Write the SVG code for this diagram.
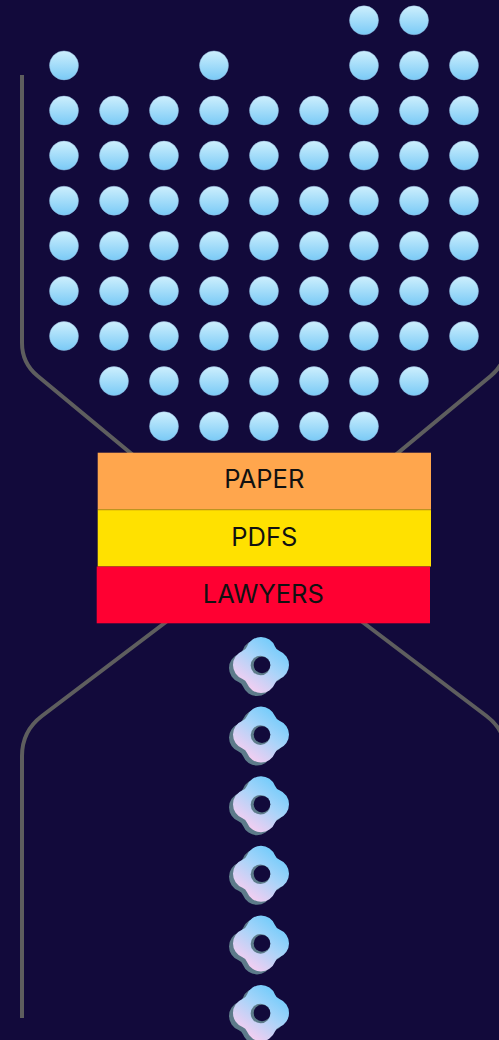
<svg xmlns="http://www.w3.org/2000/svg" xmlns:xlink="http://www.w3.org/1999/xlink" width="499" height="1040" viewBox="0 0 499 1040">
<style>
.dot{fill:url(#dg);stroke:#8fb4d8;stroke-opacity:0.55;stroke-width:0.8}
.ln{fill:none;stroke:#5e5e5e;stroke-width:4}
.lbl{font-family:Inter,"Liberation Sans",sans-serif;font-size:25.5px;fill:#111;text-anchor:middle}
.sep{stroke:#a06a10;stroke-opacity:0.35;stroke-width:1}
</style>
<defs>
<linearGradient id="dg" x1="0" y1="0" x2="0" y2="1">
<stop offset="0" stop-color="#cdeffd"/>
<stop offset="1" stop-color="#7acaf6"/>
</linearGradient>
<linearGradient id="fg" x1="0.85" y1="0.1" x2="0.2" y2="0.95">
<stop offset="0" stop-color="#6ccbfb"/>
<stop offset="0.45" stop-color="#a9d4f9"/>
<stop offset="1" stop-color="#ffcdf0"/>
</linearGradient>
<path id="fshape" d="M18.49,-13.96 A15,15 0 0 1 18.49,13.96 A8,8 0 0 0 13.96,18.49 A15,15 0 0 1 -13.96,18.49 A8,8 0 0 0 -18.49,13.96 A15,15 0 0 1 -18.49,-13.96 A8,8 0 0 0 -13.96,-18.49 A15,15 0 0 1 13.96,-18.49 A8,8 0 0 0 18.49,-13.96 Z"/>
<g id="flower">
<use xlink:href="#fshape" href="#fshape" fill="#5d7b8a" transform="translate(-4,3)"/>
<use xlink:href="#fshape" href="#fshape" fill="url(#fg)"/>
<circle cx="-0.5" cy="0.5" r="9.8" fill="#5d7b8a"/>
<circle cx="1" cy="0" r="8.3" fill="#120a3b"/>
</g>
</defs>
<rect width="499" height="1040" fill="#120a3b"/>
<g id="connectors">
<path class="ln" d="M22,75 V343 Q22,363 37.4,375.8 L180,494"/>
<path class="ln" d="M506.4,75 V343 Q506.4,363 491,375.8 L348.4,494"/>
<path class="ln" d="M195,600 L41.9,716 Q22,731.1 22,756 V1018"/>
<path class="ln" d="M333.4,600 L486.5,716 Q506.4,731.1 506.4,756 V1018"/>
</g>
<g id="dots">
<circle class="dot" cx="364" cy="20.3" r="14.5"/><circle class="dot" cx="414" cy="20.3" r="14.5"/>
<circle class="dot" cx="64" cy="65.4" r="14.5"/><circle class="dot" cx="214" cy="65.4" r="14.5"/><circle class="dot" cx="364" cy="65.4" r="14.5"/><circle class="dot" cx="414" cy="65.4" r="14.5"/><circle class="dot" cx="464" cy="65.4" r="14.5"/>
<circle class="dot" cx="64" cy="110.5" r="14.5"/><circle class="dot" cx="114" cy="110.5" r="14.5"/><circle class="dot" cx="164" cy="110.5" r="14.5"/><circle class="dot" cx="214" cy="110.5" r="14.5"/><circle class="dot" cx="264" cy="110.5" r="14.5"/><circle class="dot" cx="314" cy="110.5" r="14.5"/><circle class="dot" cx="364" cy="110.5" r="14.5"/><circle class="dot" cx="414" cy="110.5" r="14.5"/><circle class="dot" cx="464" cy="110.5" r="14.5"/>
<circle class="dot" cx="64" cy="155.6" r="14.5"/><circle class="dot" cx="114" cy="155.6" r="14.5"/><circle class="dot" cx="164" cy="155.6" r="14.5"/><circle class="dot" cx="214" cy="155.6" r="14.5"/><circle class="dot" cx="264" cy="155.6" r="14.5"/><circle class="dot" cx="314" cy="155.6" r="14.5"/><circle class="dot" cx="364" cy="155.6" r="14.5"/><circle class="dot" cx="414" cy="155.6" r="14.5"/><circle class="dot" cx="464" cy="155.6" r="14.5"/>
<circle class="dot" cx="64" cy="200.7" r="14.5"/><circle class="dot" cx="114" cy="200.7" r="14.5"/><circle class="dot" cx="164" cy="200.7" r="14.5"/><circle class="dot" cx="214" cy="200.7" r="14.5"/><circle class="dot" cx="264" cy="200.7" r="14.5"/><circle class="dot" cx="314" cy="200.7" r="14.5"/><circle class="dot" cx="364" cy="200.7" r="14.5"/><circle class="dot" cx="414" cy="200.7" r="14.5"/><circle class="dot" cx="464" cy="200.7" r="14.5"/>
<circle class="dot" cx="64" cy="245.8" r="14.5"/><circle class="dot" cx="114" cy="245.8" r="14.5"/><circle class="dot" cx="164" cy="245.8" r="14.5"/><circle class="dot" cx="214" cy="245.8" r="14.5"/><circle class="dot" cx="264" cy="245.8" r="14.5"/><circle class="dot" cx="314" cy="245.8" r="14.5"/><circle class="dot" cx="364" cy="245.8" r="14.5"/><circle class="dot" cx="414" cy="245.8" r="14.5"/><circle class="dot" cx="464" cy="245.8" r="14.5"/>
<circle class="dot" cx="64" cy="290.9" r="14.5"/><circle class="dot" cx="114" cy="290.9" r="14.5"/><circle class="dot" cx="164" cy="290.9" r="14.5"/><circle class="dot" cx="214" cy="290.9" r="14.5"/><circle class="dot" cx="264" cy="290.9" r="14.5"/><circle class="dot" cx="314" cy="290.9" r="14.5"/><circle class="dot" cx="364" cy="290.9" r="14.5"/><circle class="dot" cx="414" cy="290.9" r="14.5"/><circle class="dot" cx="464" cy="290.9" r="14.5"/>
<circle class="dot" cx="64" cy="336" r="14.5"/><circle class="dot" cx="114" cy="336" r="14.5"/><circle class="dot" cx="164" cy="336" r="14.5"/><circle class="dot" cx="214" cy="336" r="14.5"/><circle class="dot" cx="264" cy="336" r="14.5"/><circle class="dot" cx="314" cy="336" r="14.5"/><circle class="dot" cx="364" cy="336" r="14.5"/><circle class="dot" cx="414" cy="336" r="14.5"/><circle class="dot" cx="464" cy="336" r="14.5"/>
<circle class="dot" cx="114" cy="381.1" r="14.5"/><circle class="dot" cx="164" cy="381.1" r="14.5"/><circle class="dot" cx="214" cy="381.1" r="14.5"/><circle class="dot" cx="264" cy="381.1" r="14.5"/><circle class="dot" cx="314" cy="381.1" r="14.5"/><circle class="dot" cx="364" cy="381.1" r="14.5"/><circle class="dot" cx="414" cy="381.1" r="14.5"/>
<circle class="dot" cx="164" cy="426.2" r="14.5"/><circle class="dot" cx="214" cy="426.2" r="14.5"/><circle class="dot" cx="264" cy="426.2" r="14.5"/><circle class="dot" cx="314" cy="426.2" r="14.5"/><circle class="dot" cx="364" cy="426.2" r="14.5"/>
</g>
<g id="paper">
<rect x="97.7" y="452.7" width="333.3" height="56.8" fill="#ffa64d"/>
<text class="lbl" x="264.3" y="488.4">PAPER</text>
</g>
<g id="pdfs">
<rect x="97.7" y="509.5" width="333.3" height="57" fill="#ffe100"/>
<line class="sep" x1="97.7" y1="510" x2="431" y2="510"/>
<text class="lbl" x="264.3" y="545.7">PDFS</text>
</g>
<g id="lawyers">
<rect x="96.7" y="566.5" width="333.3" height="56.8" fill="#ff0032"/>
<line class="sep" x1="97.7" y1="566.5" x2="431" y2="566.5"/>
<text class="lbl" x="263.3" y="602.5">LAWYERS</text>
</g>
<g id="flower1"><use xlink:href="#flower" href="#flower" transform="translate(261,665)"/></g>
<g id="flower2"><use xlink:href="#flower" href="#flower" transform="translate(261,734.6)"/></g>
<g id="flower3"><use xlink:href="#flower" href="#flower" transform="translate(261,804.2)"/></g>
<g id="flower4"><use xlink:href="#flower" href="#flower" transform="translate(261,873.8)"/></g>
<g id="flower5"><use xlink:href="#flower" href="#flower" transform="translate(261,943.4)"/></g>
<g id="flower6"><use xlink:href="#flower" href="#flower" transform="translate(261,1013)"/></g>
</svg>
